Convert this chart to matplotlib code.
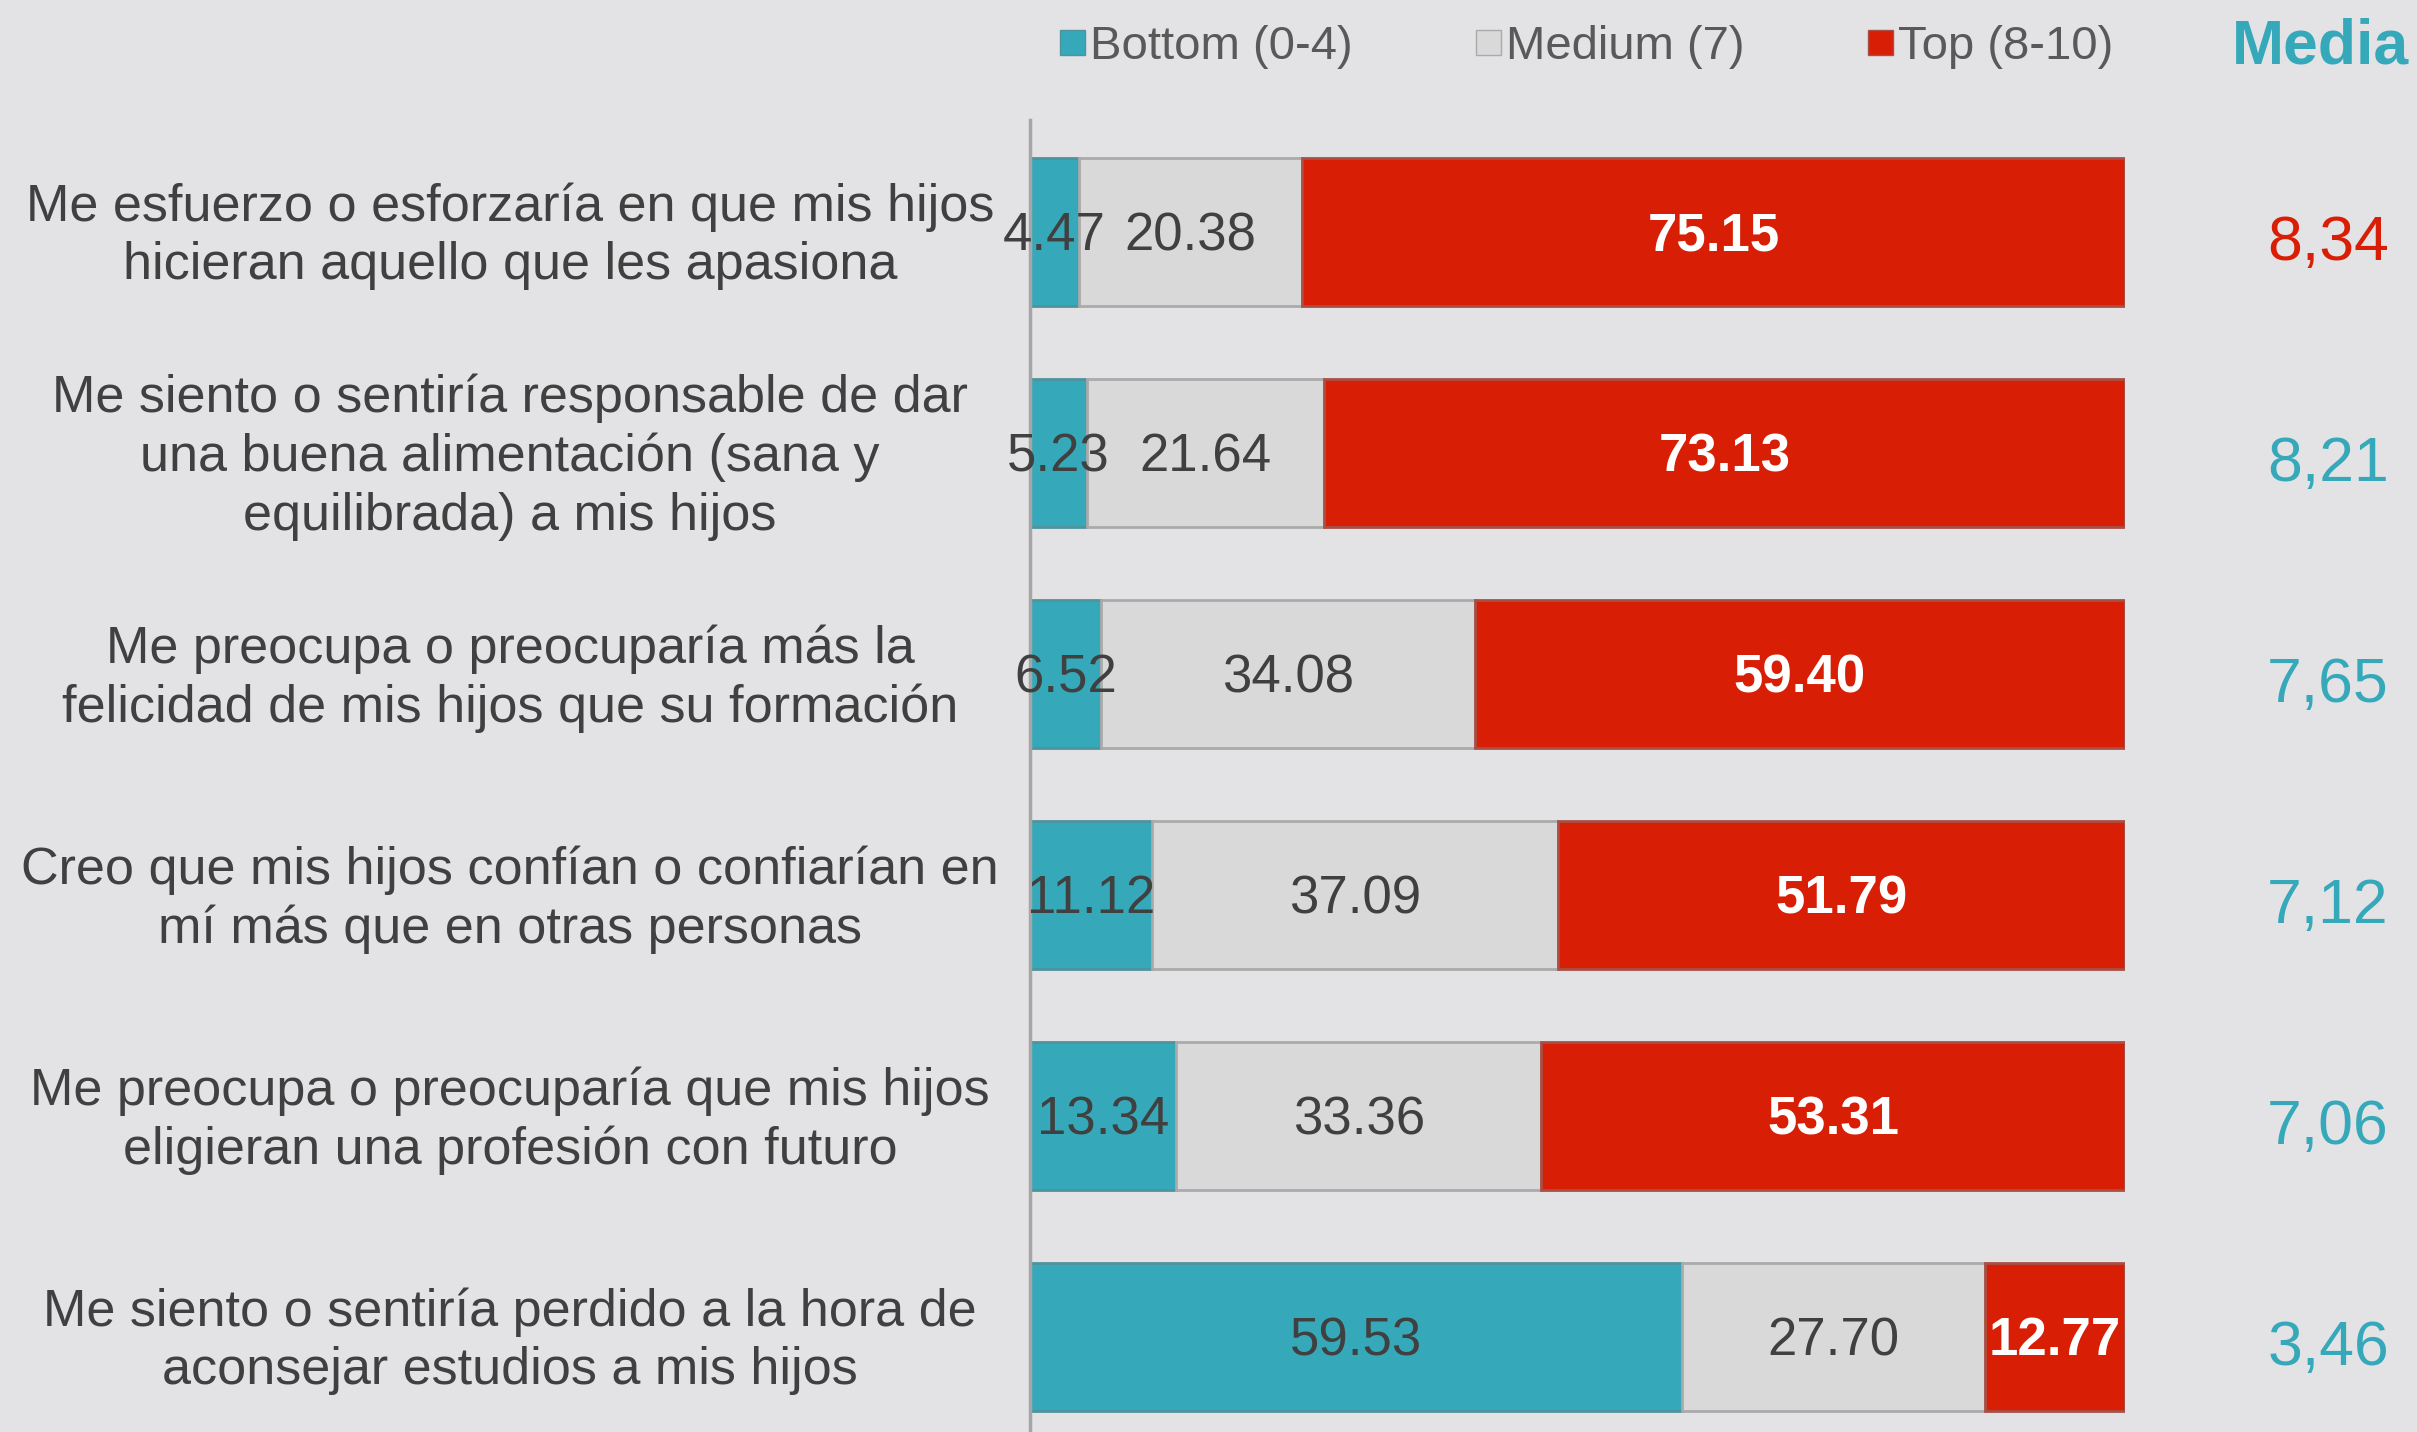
import matplotlib
matplotlib.use("Agg")
import matplotlib.pyplot as plt
from matplotlib.lines import Line2D
from matplotlib.transforms import blended_transform_factory
import numpy as np

plt.rcParams['font.family'] = ['Liberation Sans', 'DejaVu Sans']

# data
labels = [
    "Me esfuerzo o esforzaría en que mis hijos\nhicieran aquello que les apasiona",
    "Me siento o sentiría responsable de dar\nuna buena alimentación (sana y\nequilibrada) a mis hijos",
    "Me preocupa o preocuparía más la\nfelicidad de mis hijos que su formación",
    "Creo que mis hijos confían o confiarían en\nmí más que en otras personas",
    "Me preocupa o preocuparía que mis hijos\neligieran una profesión con futuro",
    "Me siento o sentiría perdido a la hora de\naconsejar estudios a mis hijos",
]
bottom = [4.47, 5.23, 6.52, 11.12, 13.34, 59.53]
medium = [20.38, 21.64, 34.08, 37.09, 33.36, 27.70]
top = [75.15, 73.13, 59.40, 51.79, 53.31, 12.77]
media = ["8,34", "8,21", "7,65", "7,12", "7,06", "3,46"]
series_names = ["Bottom (0-4)", "Medium (7)", "Top (8-10)"]

BG = '#E3E3E5'
TEAL = '#35A9BA'
GREY = '#D9D9D9'
RED = '#D81E05'
TXT = '#404040'

W, H = 2417, 1432
fig = plt.figure(figsize=(W / 100, H / 100), dpi=100, facecolor=BG)

ax = fig.add_axes([1030 / W, 0, 1095 / W, (H - 120) / H])
ax.set_facecolor(BG)
y = np.arange(len(labels))
bar_h = 0.674

series = [bottom, medium, top]
colors = [TEAL, GREY, RED]
edges = ['#4F939D', '#AAAAAA', '#A85046']
left = np.zeros(len(labels))
for vals, col, ec in zip(series, colors, edges):
    vals = np.array(vals)
    ax.barh(y, vals, left=left, height=bar_h, color=col, edgecolor=ec, linewidth=2)
    for yi, l, v in zip(y, left, vals):
        if col == RED:
            ax.text(l + v / 2, yi + 0.02, f"{v:.2f}", ha='center', va='center',
                    fontsize=38, color='white', fontweight='bold')
        else:
            ax.text(l + v / 2, yi + 0.02, f"{v:.2f}", ha='center', va='center',
                    fontsize=38, color=TXT)
    left = left + vals

ax.set_xlim(0, 100)
ax.set_ylim((H - 232) / 221, -112 / 221)
for s in ['top', 'right', 'bottom']:
    ax.spines[s].set_visible(False)
ax.spines['left'].set_color('#A6A6A6')
ax.spines['left'].set_linewidth(2.5)
ax.set_xticks([])
ax.set_yticks([])

tr = blended_transform_factory(fig.transFigure, ax.transData)
for yi, lab in zip(y, labels):
    ax.text(510 / W, yi + 0.02, lab, transform=tr, ha='center', va='center',
            fontsize=37.5, color=TXT, linespacing=1.25)

for yi, m in zip(y, media):
    ax.text(2328 / W, yi + 0.05, m, transform=tr, ha='center', va='center',
            fontsize=45, color=RED if yi == 0 else TEAL)

fig.text(2320 / W, 1 - 47 / H, "Media", ha='center', va='center',
         fontsize=45, fontweight='bold', color=TEAL)

handles = [Line2D([], [], linestyle='none', marker='s', markersize=18,
                  markerfacecolor=c, markeredgecolor=e, markeredgewidth=1)
           for c, e in zip(colors, edges)]
leg = fig.legend(handles, series_names, loc='center left', ncol=3,
                 bbox_to_anchor=(1059 / W, 1 - 47 / H), frameon=False,
                 fontsize=34, handlelength=0.55, handletextpad=0.1,
                 columnspacing=2.6, borderpad=0, borderaxespad=0)
for t in leg.get_texts():
    t.set_color('#595959')

fig.savefig("out.png", dpi=100, facecolor=BG)
